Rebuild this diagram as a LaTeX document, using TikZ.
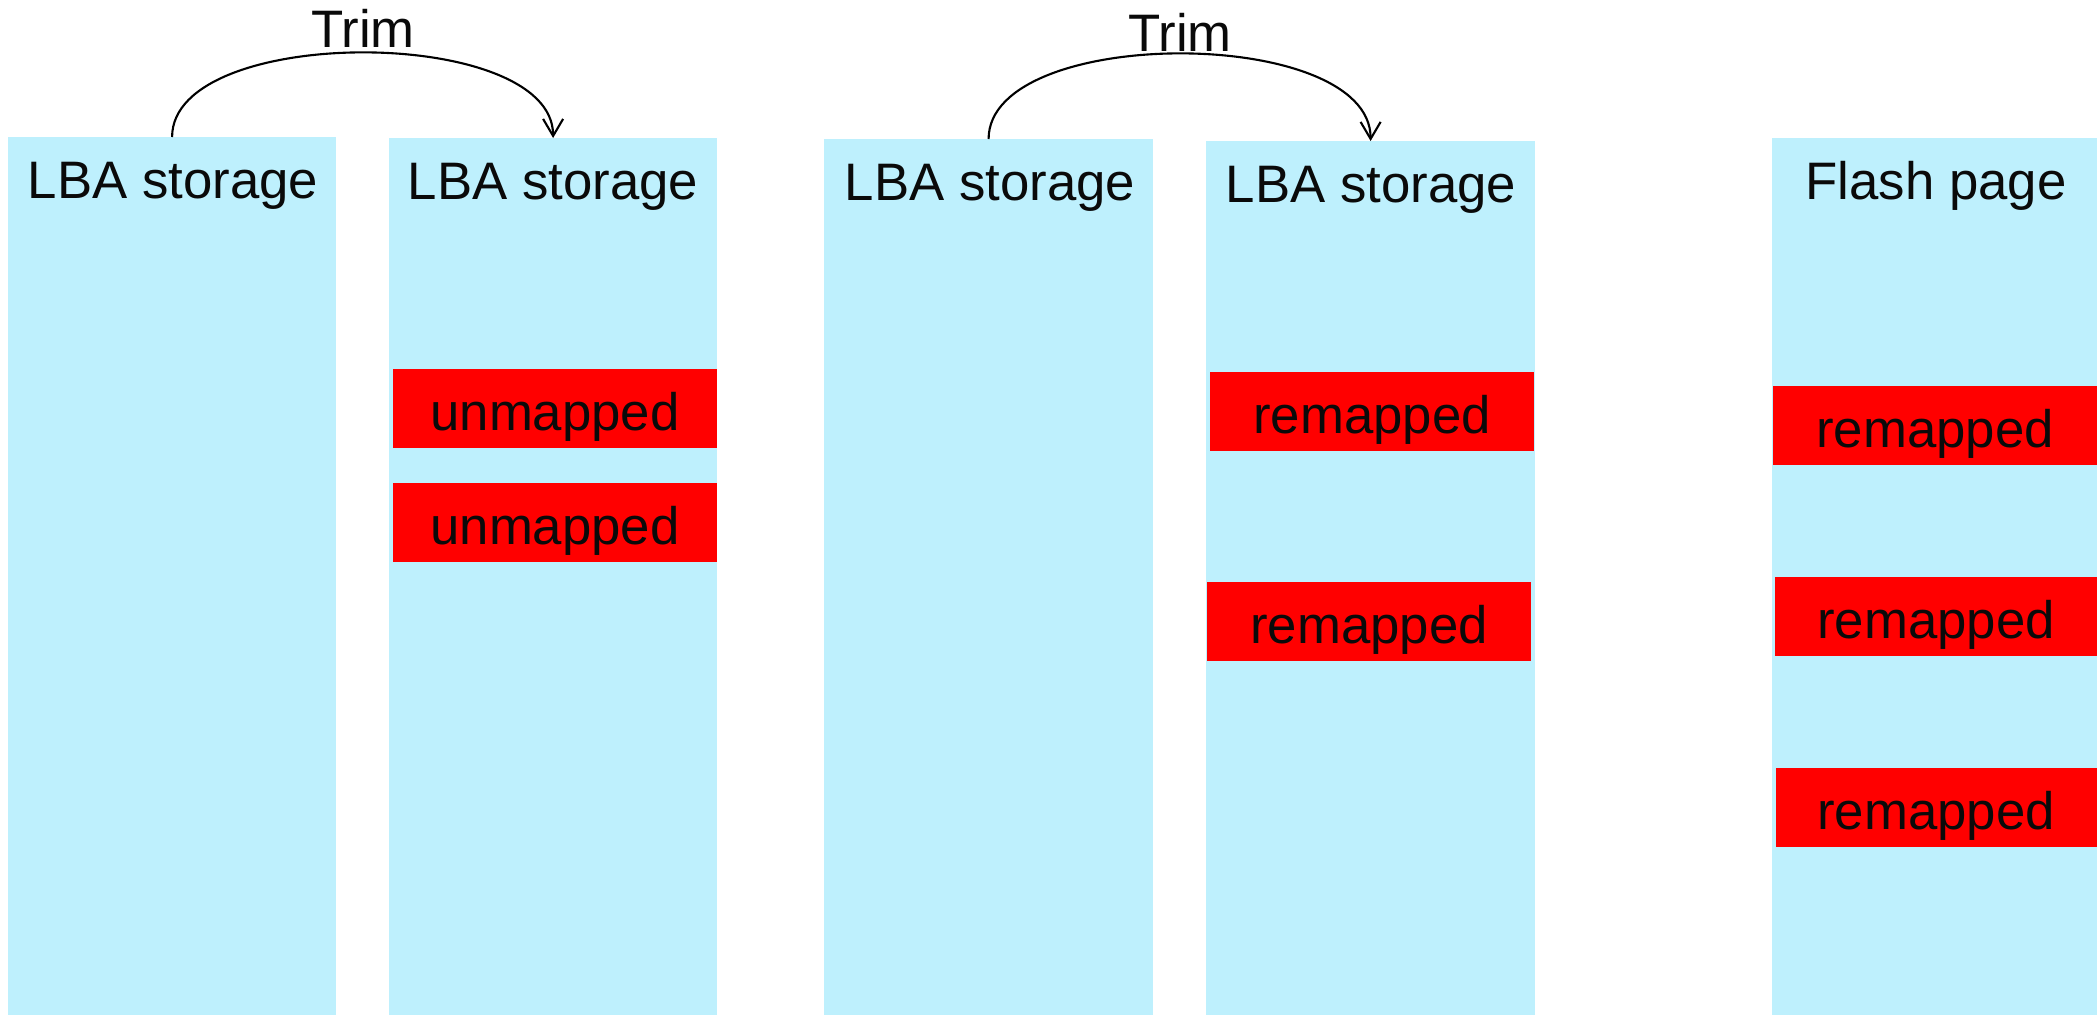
\documentclass[tikz,border=0pt]{standalone}
\usepackage{fontspec}
\setmainfont{Liberation Sans}
\usetikzlibrary{arrows.meta}
\definecolor{lba}{RGB}{190,240,253}
\definecolor{rem}{RGB}{255,0,0}
\begin{document}
\begin{tikzpicture}[x=0.01cm,y=-0.01cm,
 col/.style={fill=lba, inner sep=0, outer sep=0, anchor=north west, minimum width=3.28cm},
 blk/.style={fill=rem, inner sep=0, outer sep=0, anchor=north west, minimum height=0.79cm, minimum width=3.24cm},
 lbl/.style={anchor=base, inner sep=0, outer sep=0, text=black!96, font=\fontsize{15}{18}\selectfont},
 arr/.style={-{Straight Barb[length=1.7mm,width=2mm]}, line width=0.6pt}]
\path[use as bounding box] (0,0) rectangle (2097,1014);
% columns
\node[col, minimum height=8.77cm] (c1) at (8,137) {};
\node[col, minimum height=8.76cm] (c2) at (389,138) {};
\node[col, minimum width=3.29cm, minimum height=8.75cm] (c3) at (824,139) {};
\node[col, minimum width=3.29cm, minimum height=8.73cm] (c4) at (1206,141) {};
\node[col, minimum width=3.25cm, minimum height=8.76cm] (c5) at (1772,138) {};
% column labels
\node[lbl] (l1) at (173,198) {LBA storage};
\node[lbl] (l2) at (553,199) {LBA storage};
\node[lbl] (l3) at (990,200) {LBA storage};
\node[lbl] (l4) at (1371,202) {LBA storage};
\node[lbl] (l5) at (1936,199) {Flash page};
% red blocks
\node[blk] (b1) at (393,369) {};
\node[blk] (b2) at (393,483) {};
\node[blk] (b3) at (1210,372) {};
\node[blk] (b4) at (1207,582) {};
\node[blk] (b5) at (1773,386) {};
\node[blk, minimum width=3.22cm] (b6) at (1775,577) {};
\node[blk, minimum width=3.21cm] (b7) at (1776,768) {};
% block texts
\node[lbl] (u1) at (555,430) {unmapped};
\node[lbl] (u2) at (555,544) {unmapped};
\node[lbl] (r1) at (1372,433) {remapped};
\node[lbl] (r2) at (1369,643) {remapped};
\node[lbl] (r3) at (1935,447) {remapped};
\node[lbl] (r4) at (1936,638) {remapped};
\node[lbl] (r5) at (1936,829) {remapped};
% trim arrows
\node[lbl] (t1) at (363,47) {Trim};
\node[lbl] (t2) at (1180,51) {Trim};
\draw[arr] (c1.north) .. controls +(0,-113) and +(0,-113) .. (c2.north);
\draw[arr] (c3.north) .. controls +(0,-114) and +(0,-116) .. (c4.north);
\end{tikzpicture}
\end{document}
